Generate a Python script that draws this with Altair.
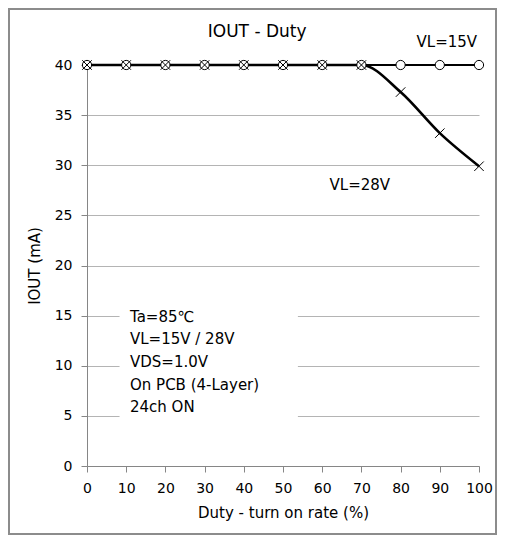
import altair as alt
import pandas as pd

duty = [0, 10, 20, 30, 40, 50, 60, 70, 80, 90, 100]
iout_15v = [40, 40, 40, 40, 40, 40, 40, 40, 40, 40, 40]
iout_28v = [40, 40, 40, 40, 40, 40, 40, 40, 37.3, 33.2, 29.9]

notes = ["Ta=85℃", "VL=15V / 28V", "VDS=1.0V", "On PCB (4-Layer)", "24ch ON"]
note_y = [14.9, 12.7, 10.4, 8.1, 5.9]

labels = ["VL=15V", "VL=28V"]
label_x = [91.8, 69.6]
label_y = [42.3, 28.0]

title_text = ["IOUT - Duty"]
title_x = [43.4]
title_y = [43.3]

FONT = "DejaVu Sans"
W, H = 392, 401

d15 = pd.DataFrame({"duty": duty, "iout": iout_15v})
d28 = pd.DataFrame({"duty": duty, "iout": iout_28v})
dnotes = pd.DataFrame({"t": notes, "y": note_y})
dlab = pd.DataFrame({"t": labels, "x": label_x, "y": label_y})
dtitle = pd.DataFrame({"t": title_text, "x": title_x, "y": title_y})

xs = alt.Scale(domain=[0, 100], nice=False)
ys = alt.Scale(domain=[0, 40], nice=False)

xax = alt.Axis(values=duty, title="Duty - turn on rate (%)", grid=False, labelOverlap=False,
               labelFlush=False,
               domainColor="#868686", tickColor="#868686", tickSize=6,
               labelFont=FONT, labelFontSize=14, labelColor="#000000",
               labelPadding=9, titleFont=FONT, titleFontSize=15,
               titleFontWeight="normal", titleColor="#000000", titlePadding=10)
yax = alt.Axis(values=[0, 5, 10, 15, 20, 25, 30, 35, 40], title="IOUT (mA)",
               grid=True, gridColor="#b4b4b4", gridWidth=1, labelOverlap=False,
               labelFlush=False,
               domainColor="#868686", tickColor="#868686", tickSize=6,
               labelFont=FONT, labelFontSize=14, labelColor="#000000",
               labelPadding=9, titleFont=FONT, titleFontSize=15,
               titleFontWeight="normal", titleColor="#000000", titlePadding=12)


def X(field):
    return alt.X(field, scale=xs, axis=xax, title="Duty - turn on rate (%)")


def Y(field):
    return alt.Y(field, scale=ys, axis=yax, title="IOUT (mA)")


note_box = alt.Chart(pd.DataFrame({"a": [8.3], "b": [53.8], "c": [17.0], "d": [4.6]})).mark_rect(
    color="white").encode(x=X("a:Q"), x2="b:Q", y=Y("c:Q"), y2="d:Q")

line15 = alt.Chart(d15).mark_line(color="black", strokeWidth=2).encode(
    x=X("duty:Q"), y=Y("iout:Q"))
line28 = alt.Chart(d28).mark_line(color="black", strokeWidth=2.6, interpolate="monotone").encode(
    x=X("duty:Q"), y=Y("iout:Q"))

pts15 = alt.Chart(d15).mark_point(shape="circle", filled=False, color="black",
                                  size=85, strokeWidth=1, opacity=1, fill="white").encode(
    x=X("duty:Q"), y=Y("iout:Q"))
pts28 = alt.Chart(d28).mark_point(shape="M-1,-1L1,1M-1,1L1,-1", filled=False, color="black",
                                  size=90, strokeWidth=1, opacity=1).encode(
    x=X("duty:Q"), y=Y("iout:Q"))

note_text = alt.Chart(dnotes).mark_text(align="left", baseline="middle", font=FONT,
                                        fontSize=15, color="black").encode(
    x=alt.value(43), y=Y("y:Q"), text="t:N")

lab_text = alt.Chart(dlab).mark_text(align="center", baseline="middle", font=FONT,
                                     fontSize=15, color="black", clip=False).encode(
    x=X("x:Q"), y=Y("y:Q"), text="t:N")

title_mark = alt.Chart(dtitle).mark_text(align="center", baseline="middle", font=FONT,
                                         fontSize=17, color="black", clip=False).encode(
    x=X("x:Q"), y=Y("y:Q"), text="t:N")

border = alt.Chart(pd.DataFrame({"k": [0]})).mark_rect(
    fill="transparent", stroke="#8c8c8c", strokeWidth=2).encode(
    x=alt.value(-78), x2=alt.value(409), y=alt.value(-56), y2=alt.value(469))

chart = alt.layer(
    note_box, line15, line28, pts15, pts28, note_text, lab_text, title_mark, border
).properties(
    width=W, height=H,
    autosize=alt.AutoSizeParams(type="none"),
    padding={"left": 79, "top": 57, "right": 18, "bottom": 70},
).configure_view(stroke=None)

chart.save("out.html", embed_options={"renderer": "svg", "actions": False})
